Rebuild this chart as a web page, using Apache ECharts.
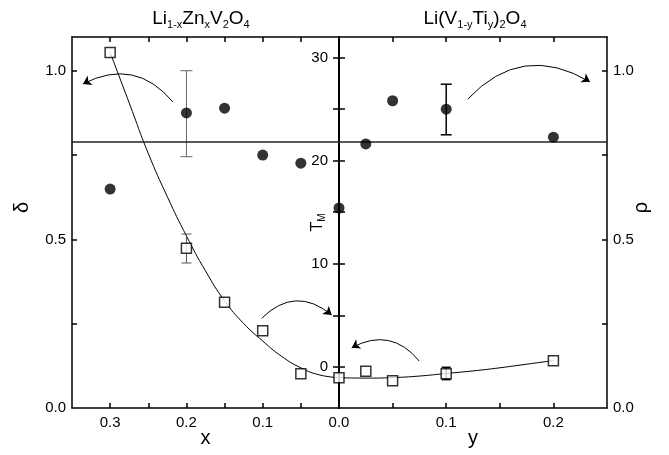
<!DOCTYPE html>
<html>
<head>
<meta charset="utf-8">
<script src="https://cdn.jsdelivr.net/npm/echarts@6/dist/echarts.min.js"></script>
<style>
  html, body { margin: 0; padding: 0; background: #fff; }
  #chart { width: 669px; height: 455px; }
</style>
</head>
<body>
<div id="chart"></div>
<script>
// left panel: Li1-xZnxV2O4, x runs from 0.35 (left) to 0 (middle)
const zincX = [0.3, 0.2, 0.15, 0.1, 0.05, 0.0]
const zincDelta = [0.649, 0.875, 0.889, 0.750, 0.726, 0.593]
const zincTm = [30.5, 11.5, 6.26, 3.5, -0.67, -1.06]
const zincDeltaErr = [[0.2, 0.745, 1.0]]
const zincTmErr = [[0.2, 10.07, 12.88]]
const zincFitX = [0.3, 0.275, 0.25, 0.225, 0.2, 0.175, 0.15, 0.125, 0.1, 0.075, 0.05, 0.025, 0.0]
const zincFitTm = [30.5, 25.6, 20.7, 16.5, 12.7, 9.3, 6.4, 4.2, 2.5, 1.0, -0.1, -0.8, -1.05]

// right panel: Li(V1-yTiy)2O4
const tiY = [0.025, 0.05, 0.1, 0.2]
const tiRho = [0.783, 0.911, 0.886, 0.803]
const tiTm = [-0.44, -1.35, -0.67, 0.59]
const tiRhoErr = [[0.1, 0.81, 0.96]]
const tiTmErr = [[0.1, -1.25, -0.05]]
const tiFitY = [0.0, 0.025, 0.05, 0.075, 0.1, 0.125, 0.15, 0.175, 0.2]
const tiFitTm = [-1.06, -1.1, -1.05, -0.9, -0.65, -0.4, -0.1, 0.25, 0.6]

// horizontal reference level (in delta / rho units)
const refLevel = 0.786

// curved arrows, [from, to, bend] in data units of each panel
const zincArrows = [
  [[0.2176, 0.907], [0.3356, 0.961], -0.4],
  [[0.1013, 0.266], [0.0096, 0.276], 0.45]
]
const tiArrows = [
  [[0.1201, 0.916], [0.2341, 0.967], 0.4],
  [[0.0749, 0.139], [0.01185, 0.179], -0.41]
]

// ticks and labels
const zincTicks = [0.05, 0.1, 0.15, 0.2, 0.25, 0.3]
const zincLabels = [0.1, 0.2, 0.3]
const tiTicks = [0.05, 0.1, 0.15, 0.2]
const tiLabels = [0, 0.1, 0.2]
const fracTicks = [0.25, 0.5, 0.75, 1.0]
const fracLabels = [0, 0.5, 1.0]
const tmTicks = [0, 5, 10, 15, 20, 25, 30]
const tmLabels = [0, 10, 20, 30]

const font = 'Liberation Sans, Arial, sans-serif'
const lineBlack = { color: '#000', width: 1.5 }

function pairs (xs, ys) {
  return xs.map((x, i) => [x, ys[i]])
}

function errBar (color, width, cap) {
  return function (params, api) {
    const x = api.value(0)
    const lo = api.coord([x, api.value(1)])
    const hi = api.coord([x, api.value(2)])
    const st = { stroke: color, lineWidth: width }
    return {
      type: 'group',
      children: [
        { type: 'line', shape: { x1: lo[0], y1: lo[1], x2: hi[0], y2: hi[1] }, style: st },
        { type: 'line', shape: { x1: lo[0] - cap, y1: lo[1], x2: lo[0] + cap, y2: lo[1] }, style: st },
        { type: 'line', shape: { x1: hi[0] - cap, y1: hi[1], x2: hi[0] + cap, y2: hi[1] }, style: st }
      ]
    }
  }
}

function arrowData (list) {
  return list.map(a => ({ coords: [a[0], a[1]], lineStyle: { curveness: a[2] } }))
}

const sub = { fontSize: 11, lineHeight: 11, verticalAlign: 'bottom', fontFamily: font, color: '#000' }
const tickStyle = { show: true, inside: true, length: 5, lineStyle: lineBlack }
const labelStyle = { fontSize: 15, color: '#000', fontFamily: font }
const nameStyle = { fontSize: 20, color: '#000', fontFamily: font }

const chart = echarts.init(document.getElementById('chart'))

chart.setOption({
  animation: false,
  backgroundColor: '#fff',
  textStyle: { fontFamily: font },
  title: [
    {
      text: 'Li{s|1-x}Zn{s|x}V{s|2}O{s|4}',
      left: 196, top: 3, textAlign: 'center',
      textStyle: { fontSize: 19, lineHeight: 22, fontWeight: 'normal', fontFamily: font, color: '#000', rich: { s: sub } }
    },
    {
      text: 'Li(V{s|1-y}Ti{s|y}){s|2}O{s|4}',
      left: 470, top: 3, textAlign: 'center',
      textStyle: { fontSize: 19, lineHeight: 22, fontWeight: 'normal', fontFamily: font, color: '#000', rich: { s: sub } }
    }
  ],
  grid: [
    { left: 72, right: 330, top: 37, bottom: 47, outerBoundsMode: 'none' },
    { left: 339, right: 62, top: 37, bottom: 47, outerBoundsMode: 'none' }
  ],
  xAxis: [
    {
      gridIndex: 0, type: 'value', position: 'bottom', inverse: true, min: 0, max: 0.35,
      name: 'x', nameLocation: 'middle', nameGap: 20, nameMoveOverlap: false, nameTextStyle: nameStyle,
      axisLine: { onZero: false, lineStyle: lineBlack },
      axisTick: Object.assign({ customValues: zincTicks }, tickStyle),
      axisLabel: Object.assign({ customValues: zincLabels, formatter: v => v.toFixed(1), margin: 7 }, labelStyle),
      splitLine: { show: false }
    },
    {
      gridIndex: 0, type: 'value', position: 'top', inverse: true, min: 0, max: 0.35,
      axisLine: { onZero: false, lineStyle: lineBlack },
      axisTick: Object.assign({ customValues: zincTicks }, tickStyle),
      axisLabel: { show: false },
      splitLine: { show: false }
    },
    {
      gridIndex: 1, type: 'value', position: 'bottom', min: 0, max: 0.25,
      name: 'y', nameLocation: 'middle', nameGap: 20, nameMoveOverlap: false, nameTextStyle: nameStyle,
      axisLine: { onZero: false, lineStyle: lineBlack },
      axisTick: Object.assign({ customValues: tiTicks }, tickStyle),
      axisLabel: Object.assign({ customValues: tiLabels, formatter: v => v.toFixed(1), margin: 7 }, labelStyle),
      splitLine: { show: false }
    },
    {
      gridIndex: 1, type: 'value', position: 'top', min: 0, max: 0.25,
      axisLine: { onZero: false, lineStyle: lineBlack },
      axisTick: Object.assign({ customValues: tiTicks }, tickStyle),
      axisLabel: { show: false },
      splitLine: { show: false }
    }
  ],
  yAxis: [
    {
      gridIndex: 0, type: 'value', position: 'left', min: 0, max: 1.1,
      name: 'δ', nameLocation: 'middle', nameGap: 40, nameRotate: 90,
      nameTextStyle: Object.assign({ padding: [0, 0, 0, 30] }, nameStyle),
      axisLine: { onZero: false, lineStyle: lineBlack },
      axisTick: Object.assign({ customValues: fracTicks }, tickStyle),
      axisLabel: Object.assign({ customValues: fracLabels, formatter: v => v.toFixed(1), margin: 6 }, labelStyle),
      splitLine: { show: false }
    },
    {
      gridIndex: 0, type: 'value', position: 'right', min: -4, max: 32, show: false,
      axisLine: { onZero: false },
      splitLine: { show: false }
    },
    {
      gridIndex: 1, type: 'value', position: 'left', min: -4, max: 32,
      axisLine: { onZero: false, lineStyle: { color: '#000', width: 2 } },
      axisTick: { show: true, inside: true, length: 6, customValues: tmTicks, lineStyle: lineBlack },
      axisLabel: { show: false },
      splitLine: { show: false }
    },
    {
      gridIndex: 1, type: 'value', position: 'left', min: -4, max: 32,
      name: 'T{m|M}', nameLocation: 'middle', nameGap: 12, nameRotate: 90, nameMoveOverlap: false,
      nameTextStyle: {
        fontSize: 16, lineHeight: 18, color: '#000', fontFamily: font,
        rich: { m: { fontSize: 10, lineHeight: 10, verticalAlign: 'bottom', fontFamily: font, color: '#000' } }
      },
      axisLine: { onZero: false, lineStyle: { color: '#000', width: 2 } },
      axisTick: { show: true, inside: false, length: 6, customValues: tmTicks, lineStyle: lineBlack },
      axisLabel: Object.assign({ customValues: tmLabels, margin: 11 }, labelStyle),
      splitLine: { show: false }
    },
    {
      gridIndex: 1, type: 'value', position: 'right', min: 0, max: 1.1,
      name: 'ρ', nameLocation: 'middle', nameGap: 24, nameRotate: 90, nameMoveOverlap: false,
      nameTextStyle: Object.assign({ padding: [0, 0, 0, 30] }, nameStyle),
      axisLine: { onZero: false, lineStyle: lineBlack },
      axisTick: Object.assign({ customValues: fracTicks }, tickStyle),
      axisLabel: Object.assign({ customValues: fracLabels, formatter: v => v.toFixed(1), margin: 6 }, labelStyle),
      splitLine: { show: false }
    }
  ],
  series: [
    {
      type: 'line', xAxisIndex: 0, yAxisIndex: 1, data: pairs(zincFitX, zincFitTm),
      smooth: true, showSymbol: false, lineStyle: { color: '#000', width: 1 }, z: 2
    },
    {
      type: 'line', xAxisIndex: 2, yAxisIndex: 2, data: pairs(tiFitY, tiFitTm),
      smooth: true, showSymbol: false, lineStyle: { color: '#000', width: 1 }, z: 2
    },
    {
      type: 'custom', xAxisIndex: 0, yAxisIndex: 0, data: zincDeltaErr,
      renderItem: errBar('#666', 1, 6), encode: { x: 0, y: [1, 2] }, z: 3
    },
    {
      type: 'custom', xAxisIndex: 0, yAxisIndex: 1, data: zincTmErr,
      renderItem: errBar('#555', 1, 5), encode: { x: 0, y: [1, 2] }, z: 3
    },
    {
      type: 'custom', xAxisIndex: 2, yAxisIndex: 4, data: tiRhoErr,
      renderItem: errBar('#000', 1.5, 5.5), encode: { x: 0, y: [1, 2] }, z: 3
    },
    {
      type: 'custom', xAxisIndex: 2, yAxisIndex: 2, data: tiTmErr,
      renderItem: errBar('#000', 1.5, 4.5), encode: { x: 0, y: [1, 2] }, z: 3
    },
    {
      type: 'scatter', xAxisIndex: 0, yAxisIndex: 0, data: pairs(zincX, zincDelta),
      symbol: 'circle', symbolSize: 11, itemStyle: { color: '#000' }, clip: false, z: 5,
      markLine: {
        silent: true, symbol: 'none', label: { show: false },
        lineStyle: { color: '#222', width: 1.5, type: 'solid' },
        data: [{ yAxis: refLevel }]
      }
    },
    {
      type: 'scatter', xAxisIndex: 2, yAxisIndex: 4, data: pairs(tiY, tiRho),
      symbol: 'circle', symbolSize: 11, itemStyle: { color: '#000' }, clip: false, z: 5,
      markLine: {
        silent: true, symbol: 'none', label: { show: false },
        lineStyle: { color: '#222', width: 1.5, type: 'solid' },
        data: [{ yAxis: refLevel }]
      }
    },
    {
      type: 'scatter', xAxisIndex: 0, yAxisIndex: 1, data: pairs(zincX, zincTm),
      symbol: 'rect', symbolSize: 10, clip: false, z: 6,
      itemStyle: { color: '#fff', borderColor: '#000', borderWidth: 1.5 }
    },
    {
      type: 'scatter', xAxisIndex: 2, yAxisIndex: 2, data: pairs(tiY, tiTm),
      symbol: 'rect', symbolSize: 10, clip: false, z: 6,
      itemStyle: { color: '#fff', borderColor: '#000', borderWidth: 1.5 }
    },
    {
      type: 'lines', coordinateSystem: 'cartesian2d', xAxisIndex: 0, yAxisIndex: 0,
      data: arrowData(zincArrows), symbol: ['none', 'arrow'], symbolSize: 8,
      lineStyle: { color: '#000', width: 1, opacity: 1 }, z: 4
    },
    {
      type: 'lines', coordinateSystem: 'cartesian2d', xAxisIndex: 2, yAxisIndex: 4,
      data: arrowData(tiArrows), symbol: ['none', 'arrow'], symbolSize: 8,
      lineStyle: { color: '#000', width: 1, opacity: 1 }, z: 4
    }
  ]
})
</script>
</body>
</html>
